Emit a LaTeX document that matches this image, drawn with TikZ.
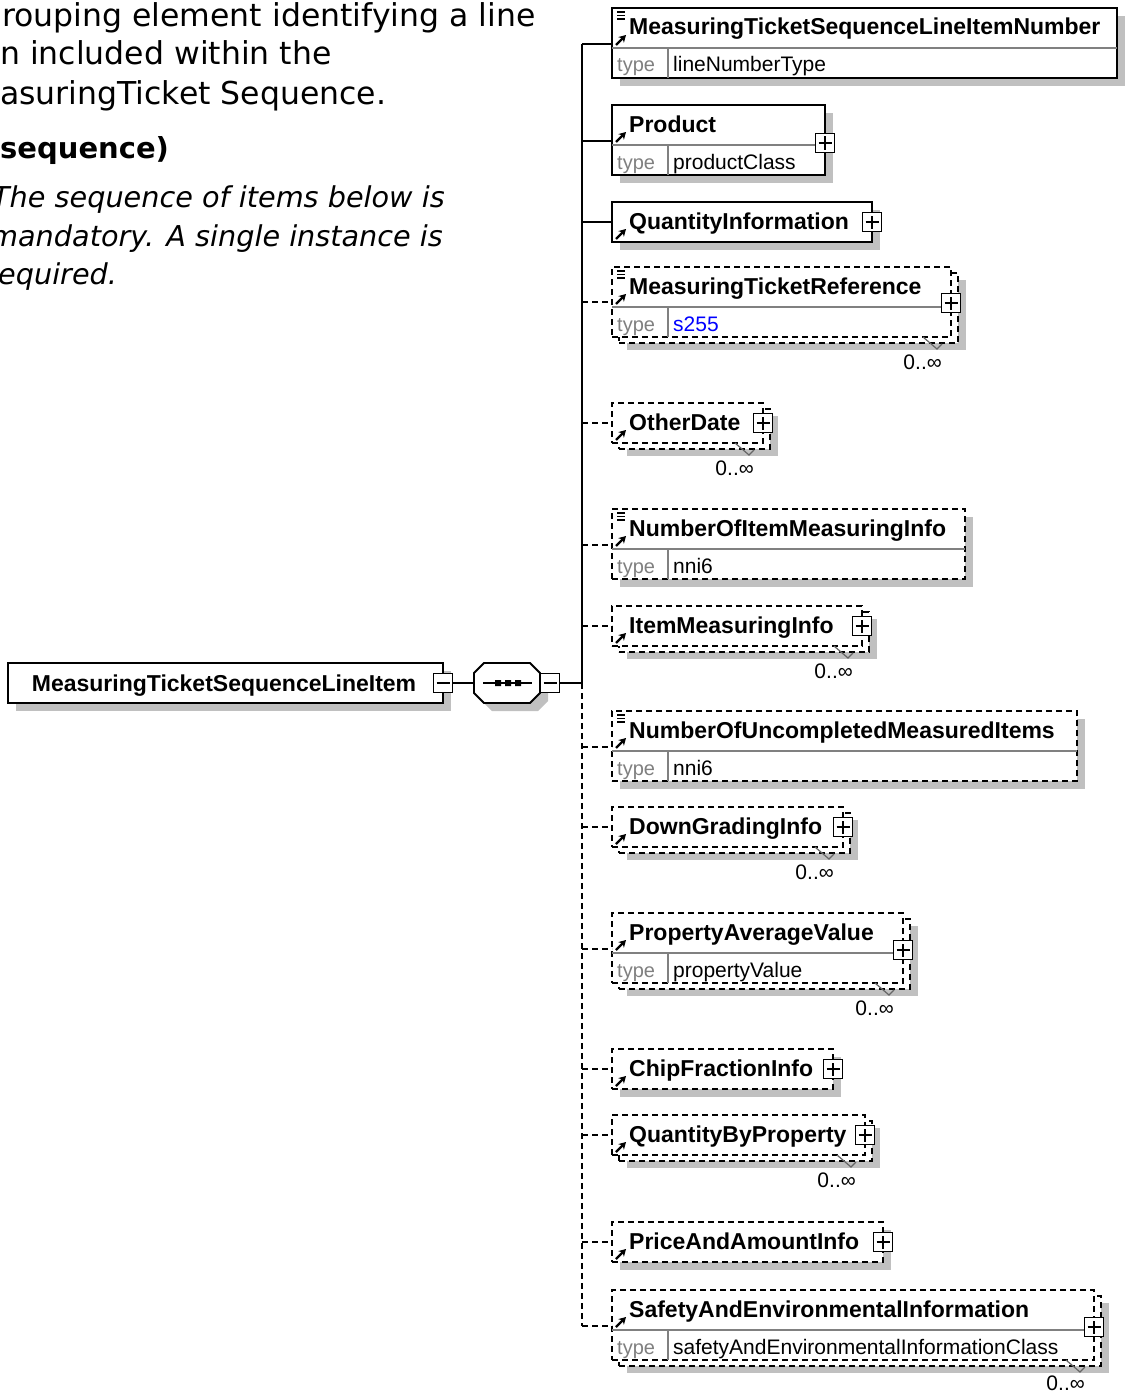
\documentclass[tikz,border=0pt]{standalone}
\usepackage{fontspec}
\setmainfont{Liberation Sans}
\newfontfamily\descfont{DejaVu Sans}
\usetikzlibrary{arrows.meta}
\definecolor{shadowgray}{HTML}{C0C0C0}
\definecolor{typegray}{HTML}{808080}
\definecolor{linkblue}{HTML}{0000FF}

\newcommand{\plusmark}[3]{%
  \node[signbox] (#1) at (#2,#3) {};
  \draw[signline] ([xshift=-6.5pt]#1.center) -- ([xshift=6.5pt]#1.center)
                  ([yshift=-6.5pt]#1.center) -- ([yshift=6.5pt]#1.center);}
\newcommand{\minusmark}[3]{%
  \node[signbox] (#1) at (#2,#3) {};
  \draw[signline] ([xshift=-6.5pt]#1.center) -- ([xshift=6.5pt]#1.center);}
\newcommand{\simpleicon}[2]{%
  \draw[line width=1.2pt] (#1+5,#2+4) -- (#1+13,#2+4)
       (#1+5,#2+7.5) -- (#1+13,#2+7.5) (#1+5,#2+11) -- (#1+13,#2+11);}
\newcommand{\refarrow}[2]{%
  \draw[line width=2.4pt,-{Stealth[length=7pt,width=8pt]}] (#1+4,#2-3) -- (#1+14,#2-13);}
\newcommand{\occtick}[3]{%
  \draw[ticksty] (#1-35,#2) -- (#1-21,#3+6) -- (#1-16,#3+1);}

\tikzset{
  solidline/.style={line width=1.8pt},
  dashline/.style={line width=1.8pt, dash pattern=on 6pt off 4pt},
  shadowfill/.style={fill=shadowgray},
  elemsolid/.style={draw, solidline, fill=white, anchor=north west, inner sep=0pt, outer sep=0pt},
  elemdash/.style={draw, dashline, fill=white, anchor=north west, inner sep=0pt, outer sep=0pt},
  divline/.style={draw=typegray, line width=1.4pt},
  ttl/.style={anchor=base west, inner sep=0pt, font=\fontsize{23}{27}\selectfont\bfseries},
  typelbl/.style={anchor=base west, inner sep=0pt, text=typegray, font=\fontsize{20}{24}\selectfont},
  typeval/.style={anchor=base west, inner sep=0pt, font=\fontsize{21}{24}\selectfont},
  occlbl/.style={anchor=base east, inner sep=0pt, font=\fontsize{21}{24}\selectfont},
  signbox/.style={draw, fill=white, line width=1.6pt, minimum size=19pt, inner sep=0pt},
  signline/.style={line width=1.6pt},
  ticksty/.style={draw=black!60, line width=1.2pt},
  desc/.style={anchor=base west, inner sep=0pt, font=\descfont\fontsize{31.5}{39}\selectfont},
  descb/.style={anchor=base west, inner sep=0pt, font=\descfont\fontsize{29}{39}\selectfont\bfseries},
  desci/.style={anchor=base west, inner sep=0pt, font=\descfont\fontsize{28.7}{39}\selectfont\itshape},
}

\begin{document}
\begin{tikzpicture}[x=1pt,y=-1pt]
\useasboundingbox (0,0) rectangle (1128,1394);

% ---------- description text ----------
\node[desc] (d1) at (2,27) {rouping element identifying a line};
\node[desc] (d2) at (0,65) {n included within the};
\node[desc] (d3) at (0,105) {asuringTicket Sequence.};
\node[descb] (d4) at (0,158) {sequence)};
\node[desci] (d5) at (-8,207) {The sequence of items below is};
\node[desci] (d6) at (-10,246) {mandatory. A single instance is};
\node[desci] (d7) at (-2,284) {equired.};

% ---------- main element ----------
\fill[shadowfill] (16,671) rectangle (451,711);
\node[elemsolid, minimum width=435pt, minimum height=40pt] (main) at (8,663) {};
\node[anchor=base, inner sep=0pt, font=\fontsize{23}{27}\selectfont\bfseries] (maintxt) at (224,691) {MeasuringTicketSequenceLineItem};
\minusmark{mainm}{443}{683}

% ---------- sequence compositor ----------
\node[minimum width=66pt, minimum height=40pt, inner sep=0pt, outer sep=0pt] (seq) at (507,683) {};
\fill[shadowfill, shift={(8,8)}] (484,663) -- (530,663) -- (540,673) -- (540,693) -- (530,703) -- (484,703) -- (474,693) -- (474,673) -- cycle;
\draw[solidline, fill=white] (484,663) -- (530,663) -- (540,673) -- (540,693) -- (530,703) -- (484,703) -- (474,693) -- (474,673) -- cycle;
\draw[line width=1.6pt] (483,683) -- (532,683);
\fill (495,680) rectangle (501,686) (505,680) rectangle (511,686) (515,680) rectangle (521,686);
\minusmark{seqm}{550}{683}
\draw[solidline] (mainm.east) -- (seq.west);

% ---------- bus ----------
\coordinate (bustop) at (582,44);
\coordinate (busmid) at (582,683);
\coordinate (busbot) at (582,1326);
\draw[solidline] (seqm.east) -- (busmid);
\draw[solidline] (bustop) -- (busmid);
\draw[dashline] (busmid) -- (busbot);

% ---------- E1 ----------
\fill[shadowfill] (620,16) rectangle (1125,86);
\node[elemsolid, minimum width=505pt, minimum height=70pt] (e1) at (612,8) {};
\draw[divline] (612,48) -- (1117,48) (668,48) -- (668,78);
\node[ttl] (t1) at (629,35) {MeasuringTicketSequenceLineItemNumber};
\node[typelbl] (y1) at (617,72) {type};
\node[typeval] (v1) at (673,72) {lineNumberType};
\simpleicon{612}{8}
\refarrow{612}{48}
\coordinate (k1) at (582,44);
\draw[solidline] (k1) -- (e1.west |- k1);

% ---------- E2 ----------
\fill[shadowfill] (620,113) rectangle (833,183);
\node[elemsolid, minimum width=213pt, minimum height=70pt] (e2) at (612,105) {};
\draw[divline] (612,145) -- (825,145) (668,145) -- (668,175);
\node[ttl] (t2) at (629,132) {Product};
\node[typelbl] (y2) at (617,169) {type};
\node[typeval] (v2) at (673,169) {productClass};
\refarrow{612}{145}
\plusmark{p2}{825}{143}
\coordinate (k2) at (582,141);
\draw[solidline] (k2) -- (e2.west |- k2);

% ---------- E3 ----------
\fill[shadowfill] (620,210) rectangle (880,250);
\node[elemsolid, minimum width=260pt, minimum height=40pt] (e3) at (612,202) {};
\node[ttl] (t3) at (629,229) {QuantityInformation};
\refarrow{612}{242}
\plusmark{p3}{872}{222}
\coordinate (k3) at (582,222);
\draw[solidline] (k3) -- (e3.west |- k3);

% ---------- E4 ----------
\fill[shadowfill] (627,280) rectangle (966,350);
\node[elemdash, minimum width=339pt, minimum height=70pt] (e4b) at (619,273) {};
\node[elemdash, minimum width=339pt, minimum height=70pt] (e4) at (612,267) {};
\draw[divline] (612,307) -- (951,307) (668,307) -- (668,337);
\node[ttl] (t4) at (629,294) {MeasuringTicketReference};
\node[typelbl] (y4) at (617,331) {type};
\node[typeval, text=linkblue] (v4) at (673,331) {s255};
\simpleicon{612}{267}
\refarrow{612}{307}
\plusmark{p4}{951}{303}
\occtick{958}{337}{343}
\node[occlbl] (o4) at (942,369) {0..∞};
\coordinate (k4) at (582,302);
\draw[dashline] (k4) -- (e4.west |- k4);

% ---------- E5 ----------
\fill[shadowfill] (627,416) rectangle (778,456);
\node[elemdash, minimum width=151pt, minimum height=40pt] (e5b) at (619,409) {};
\node[elemdash, minimum width=151pt, minimum height=40pt] (e5) at (612,403) {};
\node[ttl] (t5) at (629,430) {OtherDate};
\refarrow{612}{443}
\plusmark{p5}{763}{423}
\occtick{770}{443}{449}
\node[occlbl] (o5) at (754,475) {0..∞};
\coordinate (k5) at (582,423);
\draw[dashline] (k5) -- (e5.west |- k5);

% ---------- E6 ----------
\fill[shadowfill] (620,517) rectangle (973,587);
\node[elemdash, minimum width=353pt, minimum height=70pt] (e6) at (612,509) {};
\draw[divline] (612,549) -- (965,549) (668,549) -- (668,579);
\node[ttl] (t6) at (629,536) {NumberOfItemMeasuringInfo};
\node[typelbl] (y6) at (617,573) {type};
\node[typeval] (v6) at (673,573) {nni6};
\simpleicon{612}{509}
\refarrow{612}{549}
\coordinate (k6) at (582,545);
\draw[dashline] (k6) -- (e6.west |- k6);

% ---------- E7 ----------
\fill[shadowfill] (627,619) rectangle (877,659);
\node[elemdash, minimum width=250pt, minimum height=40pt] (e7b) at (619,612) {};
\node[elemdash, minimum width=250pt, minimum height=40pt] (e7) at (612,606) {};
\node[ttl] (t7) at (629,633) {ItemMeasuringInfo};
\refarrow{612}{646}
\plusmark{p7}{862}{626}
\occtick{869}{646}{652}
\node[occlbl] (o7) at (853,678) {0..∞};
\coordinate (k7) at (582,626);
\draw[dashline] (k7) -- (e7.west |- k7);

% ---------- E8 ----------
\fill[shadowfill] (620,719) rectangle (1085,789);
\node[elemdash, minimum width=465pt, minimum height=70pt] (e8) at (612,711) {};
\draw[divline] (612,751) -- (1077,751) (668,751) -- (668,781);
\node[ttl] (t8) at (629,738) {NumberOfUncompletedMeasuredItems};
\node[typelbl] (y8) at (617,775) {type};
\node[typeval] (v8) at (673,775) {nni6};
\simpleicon{612}{711}
\refarrow{612}{751}
\coordinate (k8) at (582,747);
\draw[dashline] (k8) -- (e8.west |- k8);

% ---------- E9 ----------
\fill[shadowfill] (627,820) rectangle (858,860);
\node[elemdash, minimum width=231pt, minimum height=40pt] (e9b) at (619,813) {};
\node[elemdash, minimum width=231pt, minimum height=40pt] (e9) at (612,807) {};
\node[ttl] (t9) at (629,834) {DownGradingInfo};
\refarrow{612}{847}
\plusmark{p9}{843}{827}
\occtick{850}{847}{853}
\node[occlbl] (o9) at (834,879) {0..∞};
\coordinate (k9) at (582,827);
\draw[dashline] (k9) -- (e9.west |- k9);

% ---------- E10 ----------
\fill[shadowfill] (627,926) rectangle (918,996);
\node[elemdash, minimum width=291pt, minimum height=70pt] (e10b) at (619,919) {};
\node[elemdash, minimum width=291pt, minimum height=70pt] (e10) at (612,913) {};
\draw[divline] (612,953) -- (903,953) (668,953) -- (668,983);
\node[ttl] (t10) at (629,940) {PropertyAverageValue};
\node[typelbl] (y10) at (617,977) {type};
\node[typeval] (v10) at (673,977) {propertyValue};
\refarrow{612}{953}
\plusmark{p10}{903}{950}
\occtick{910}{983}{989}
\node[occlbl] (o10) at (894,1015) {0..∞};
\coordinate (k10) at (582,949);
\draw[dashline] (k10) -- (e10.west |- k10);

% ---------- E11 ----------
\fill[shadowfill] (620,1057) rectangle (841,1097);
\node[elemdash, minimum width=221pt, minimum height=40pt] (e11) at (612,1049) {};
\node[ttl] (t11) at (629,1076) {ChipFractionInfo};
\refarrow{612}{1089}
\plusmark{p11}{833}{1069}
\coordinate (k11) at (582,1069);
\draw[dashline] (k11) -- (e11.west |- k11);

% ---------- E12 ----------
\fill[shadowfill] (627,1128) rectangle (880,1168);
\node[elemdash, minimum width=253pt, minimum height=40pt] (e12b) at (619,1121) {};
\node[elemdash, minimum width=253pt, minimum height=40pt] (e12) at (612,1115) {};
\node[ttl] (t12) at (629,1142) {QuantityByProperty};
\refarrow{612}{1155}
\plusmark{p12}{865}{1135}
\occtick{872}{1155}{1161}
\node[occlbl] (o12) at (856,1187) {0..∞};
\coordinate (k12) at (582,1135);
\draw[dashline] (k12) -- (e12.west |- k12);

% ---------- E13 ----------
\fill[shadowfill] (620,1230) rectangle (891,1270);
\node[elemdash, minimum width=271pt, minimum height=40pt] (e13) at (612,1222) {};
\node[ttl] (t13) at (629,1249) {PriceAndAmountInfo};
\refarrow{612}{1262}
\plusmark{p13}{883}{1242}
\coordinate (k13) at (582,1242);
\draw[dashline] (k13) -- (e13.west |- k13);

% ---------- E14 ----------
\fill[shadowfill] (627,1303) rectangle (1109,1373);
\node[elemdash, minimum width=482pt, minimum height=70pt] (e14b) at (619,1296) {};
\node[elemdash, minimum width=482pt, minimum height=70pt] (e14) at (612,1290) {};
\draw[divline] (612,1330) -- (1094,1330) (668,1330) -- (668,1360);
\node[ttl] (t14) at (629,1317) {SafetyAndEnvironmentalInformation};
\node[typelbl] (y14) at (617,1354) {type};
\node[typeval] (v14) at (673,1354) {safetyAndEnvironmentalInformationClass};
\refarrow{612}{1330}
\plusmark{p14}{1094}{1327}
\occtick{1101}{1360}{1366}
\node[occlbl] (o14) at (1085,1390) {0..∞};
\draw[dashline] (busbot) -- (e14.west |- busbot);
\end{tikzpicture}
\end{document}
